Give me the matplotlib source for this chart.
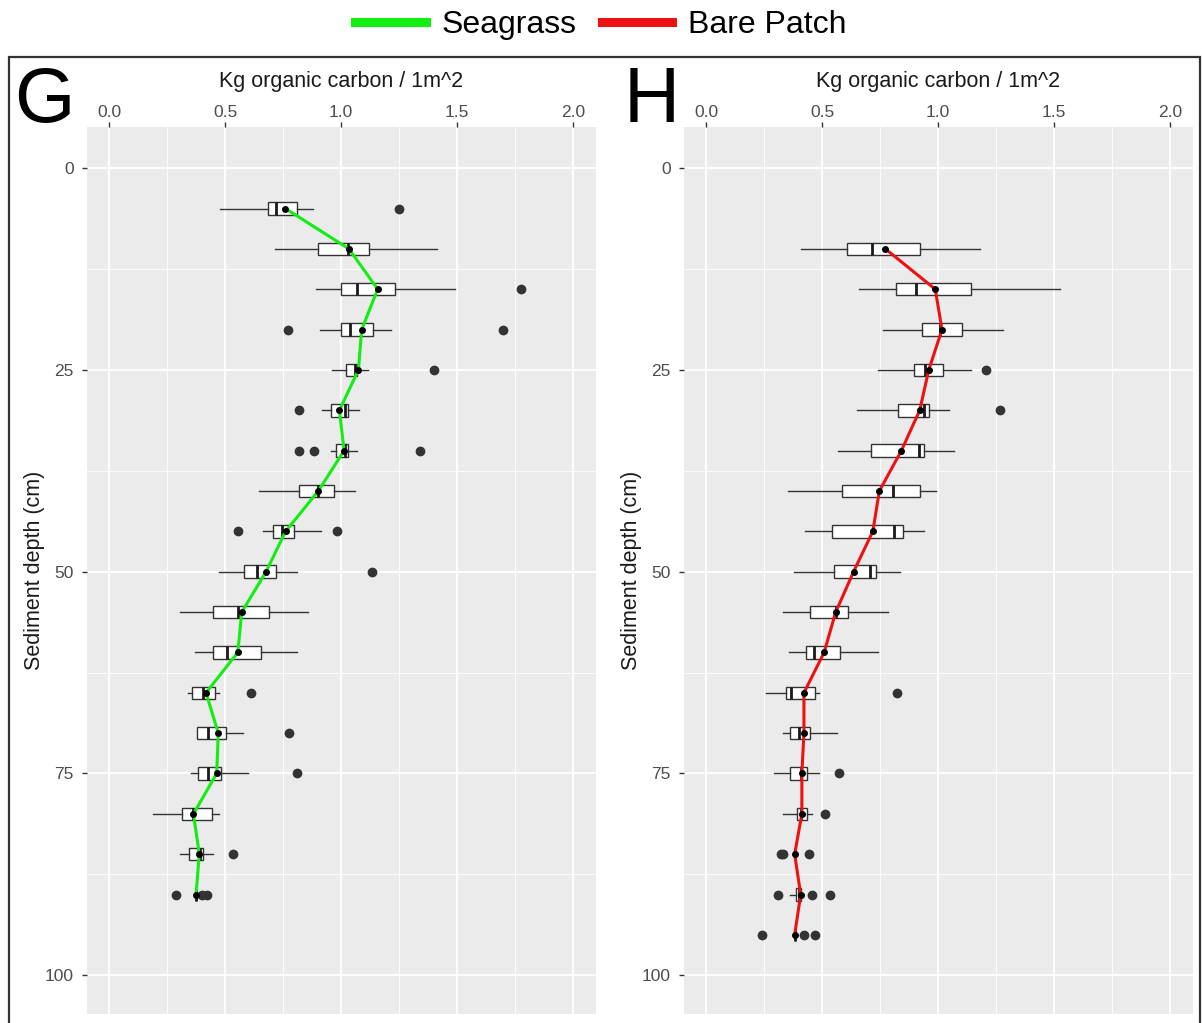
import matplotlib
matplotlib.use("Agg")
import matplotlib.pyplot as plt
from matplotlib.lines import Line2D
from matplotlib.patches import Rectangle
from matplotlib.ticker import MultipleLocator

plt.rcParams['font.family'] = ['Liberation Sans', 'DejaVu Sans']

# Panel G - seagrass
depth_g = [5, 10, 15, 20, 25, 30, 35, 40, 45, 50, 55, 60, 65, 70, 75, 80, 85, 90]
g_whislo = [0.48, 0.716, 0.892, 0.909, 0.963, 0.917, 0.955, 0.648, 0.665, 0.474, 0.306, 0.371, 0.339, 0.378, 0.352, 0.191, 0.306, 0.375]
g_q1 = [0.685, 0.899, 1.001, 1.001, 1.022, 0.957, 0.977, 0.820, 0.705, 0.583, 0.450, 0.450, 0.359, 0.378, 0.385, 0.313, 0.346, 0.375]
g_med = [0.72, 1.03, 1.070, 1.039, 1.060, 1.017, 1.017, 0.900, 0.744, 0.636, 0.557, 0.507, 0.407, 0.428, 0.425, 0.364, 0.390, 0.375]
g_q3 = [0.81, 1.119, 1.234, 1.137, 1.068, 1.029, 1.029, 0.971, 0.797, 0.720, 0.688, 0.655, 0.457, 0.503, 0.483, 0.445, 0.407, 0.375]
g_whishi = [0.877, 1.415, 1.493, 1.216, 1.118, 1.079, 1.068, 1.062, 0.914, 0.809, 0.858, 0.810, 0.476, 0.579, 0.598, 0.474, 0.450, 0.375]
g_mean = [0.76, 1.034, 1.158, 1.089, 1.075, 0.993, 1.013, 0.902, 0.761, 0.677, 0.572, 0.555, 0.418, 0.471, 0.464, 0.364, 0.389, 0.375]
g_fliers = [[1.25], [], [1.774], [0.770, 1.697], [1.401], [0.820], [0.820, 0.885, 1.340], [],
            [0.557, 0.983], [1.132], [], [], [0.611], [0.777], [0.809], [], [0.533], [0.289, 0.399, 0.424]]

# Panel H - bare patch
depth_h = [10, 15, 20, 25, 30, 35, 40, 45, 50, 55, 60, 65, 70, 75, 80, 85, 90, 95]
h_whislo = [0.409, 0.659, 0.761, 0.741, 0.650, 0.568, 0.355, 0.427, 0.377, 0.331, 0.357, 0.260, 0.331, 0.292, 0.331, 0.382, 0.364, 0.382]
h_q1 = [0.607, 0.820, 0.929, 0.898, 0.826, 0.711, 0.588, 0.542, 0.550, 0.448, 0.429, 0.345, 0.364, 0.364, 0.390, 0.382, 0.386, 0.382]
h_med = [0.715, 0.906, 1.010, 0.945, 0.938, 0.917, 0.804, 0.812, 0.708, 0.560, 0.465, 0.367, 0.400, 0.410, 0.410, 0.382, 0.400, 0.382]
h_q3 = [0.924, 1.142, 1.104, 1.020, 0.963, 0.938, 0.924, 0.847, 0.732, 0.610, 0.578, 0.468, 0.448, 0.436, 0.436, 0.382, 0.408, 0.382]
h_whishi = [1.183, 1.524, 1.279, 1.142, 1.046, 1.068, 0.990, 0.938, 0.835, 0.786, 0.740, 0.488, 0.566, 0.488, 0.457, 0.382, 0.408, 0.382]
h_mean = [0.773, 0.988, 1.017, 0.960, 0.921, 0.842, 0.747, 0.719, 0.636, 0.559, 0.509, 0.422, 0.422, 0.413, 0.413, 0.382, 0.408, 0.382]
h_fliers = [[], [], [], [1.206], [1.265], [], [], [], [], [], [], [0.824], [], [0.571], [0.513],
            [0.321, 0.332, 0.442], [0.312, 0.457, 0.533], [0.241, 0.423, 0.470]]

GREEN = '#11EE11'
RED = '#EE1111'

W, H = 1202, 1023
fig = plt.figure(figsize=(W / 100, H / 100), dpi=100)


def draw_panel(ax, depth, whislo, q1, med, q3, whishi, mean, fliers, color):
    stats = []
    for i in range(len(depth)):
        stats.append(dict(whislo=whislo[i], q1=q1[i], med=med[i], q3=q3[i],
                          whishi=whishi[i], fliers=fliers[i]))
    ax.bxp(stats, positions=depth, widths=1.55, orientation='horizontal',
           showcaps=False, patch_artist=True, manage_ticks=False,
           boxprops=dict(facecolor='white', edgecolor='#333333', linewidth=1.0),
           whiskerprops=dict(color='#333333', linewidth=1.0),
           medianprops=dict(color='#1a1a1a', linewidth=2.0),
           flierprops=dict(marker='o', markerfacecolor='#333333',
                           markeredgecolor='#333333', markersize=6))
    ax.plot(mean, depth, color=color, lw=2.2, zorder=4)
    ax.plot(mean, depth, 'o', color='black', ms=4, zorder=5)

    ax.set_facecolor('#EBEBEB')
    for s in ax.spines.values():
        s.set_visible(False)
    ax.set_xlim(-0.095, 2.099)
    ax.set_ylim(104.8, -5.1)
    ax.xaxis.set_major_locator(MultipleLocator(0.5))
    ax.xaxis.set_minor_locator(MultipleLocator(0.25))
    ax.yaxis.set_major_locator(MultipleLocator(25))
    ax.yaxis.set_minor_locator(MultipleLocator(12.5))
    ax.set_xticks([0, 0.5, 1.0, 1.5, 2.0])
    ax.set_xticklabels(['0.0', '0.5', '1.0', '1.5', '2.0'])
    ax.grid(which='major', color='white', lw=1.3)
    ax.grid(which='minor', color='white', lw=0.6)
    ax.set_axisbelow(True)
    ax.xaxis.tick_top()
    ax.xaxis.set_label_position('top')
    ax.tick_params(which='major', length=3.6, width=1, color='#333333',
                   labelcolor='#4D4D4D', labelsize=12.5)
    ax.tick_params(axis='x', which='major', pad=1.5)
    ax.tick_params(axis='y', which='major', pad=6)
    ax.tick_params(which='minor', length=0)
    ax.set_xlabel('Kg organic carbon / 1m^2', fontsize=15.5, color='#1a1a1a', labelpad=13)
    ax.set_ylabel('Sediment depth (cm)', fontsize=15.5, color='#1a1a1a', labelpad=0)


ax_g = fig.add_axes([87 / W, 1 - 1014 / H, 509 / W, 887 / H])
draw_panel(ax_g, depth_g, g_whislo, g_q1, g_med, g_q3, g_whishi, g_mean, g_fliers, GREEN)
ax_h = fig.add_axes([684 / W, 1 - 1014 / H, 509 / W, 887 / H])
draw_panel(ax_h, depth_h, h_whislo, h_q1, h_med, h_q3, h_whishi, h_mean, h_fliers, RED)

fig.text(14 / W, 1 - 122 / H, 'G', fontsize=56, va='baseline', ha='left')
fig.text(624 / W, 1 - 122 / H, 'H', fontsize=56, va='baseline', ha='left')

# outer frame
fig.add_artist(Rectangle((9 / W, -0.1), (1200 - 9) / W, 1 - 57 / H + 0.1,
                         transform=fig.transFigure, fill=False,
                         edgecolor='#333333', lw=1.6))

handles = [Line2D([], [], color=GREEN, lw=6.5), Line2D([], [], color=RED, lw=6.5)]
fig.legend(handles, ['Seagrass', 'Bare Patch'], loc='center',
           bbox_to_anchor=(0.5, 1 - 25 / H), ncol=2, frameon=False,
           fontsize=23, handlelength=2.2, columnspacing=0.8, handletextpad=0.5)

fig.savefig('out.png', dpi=100)
